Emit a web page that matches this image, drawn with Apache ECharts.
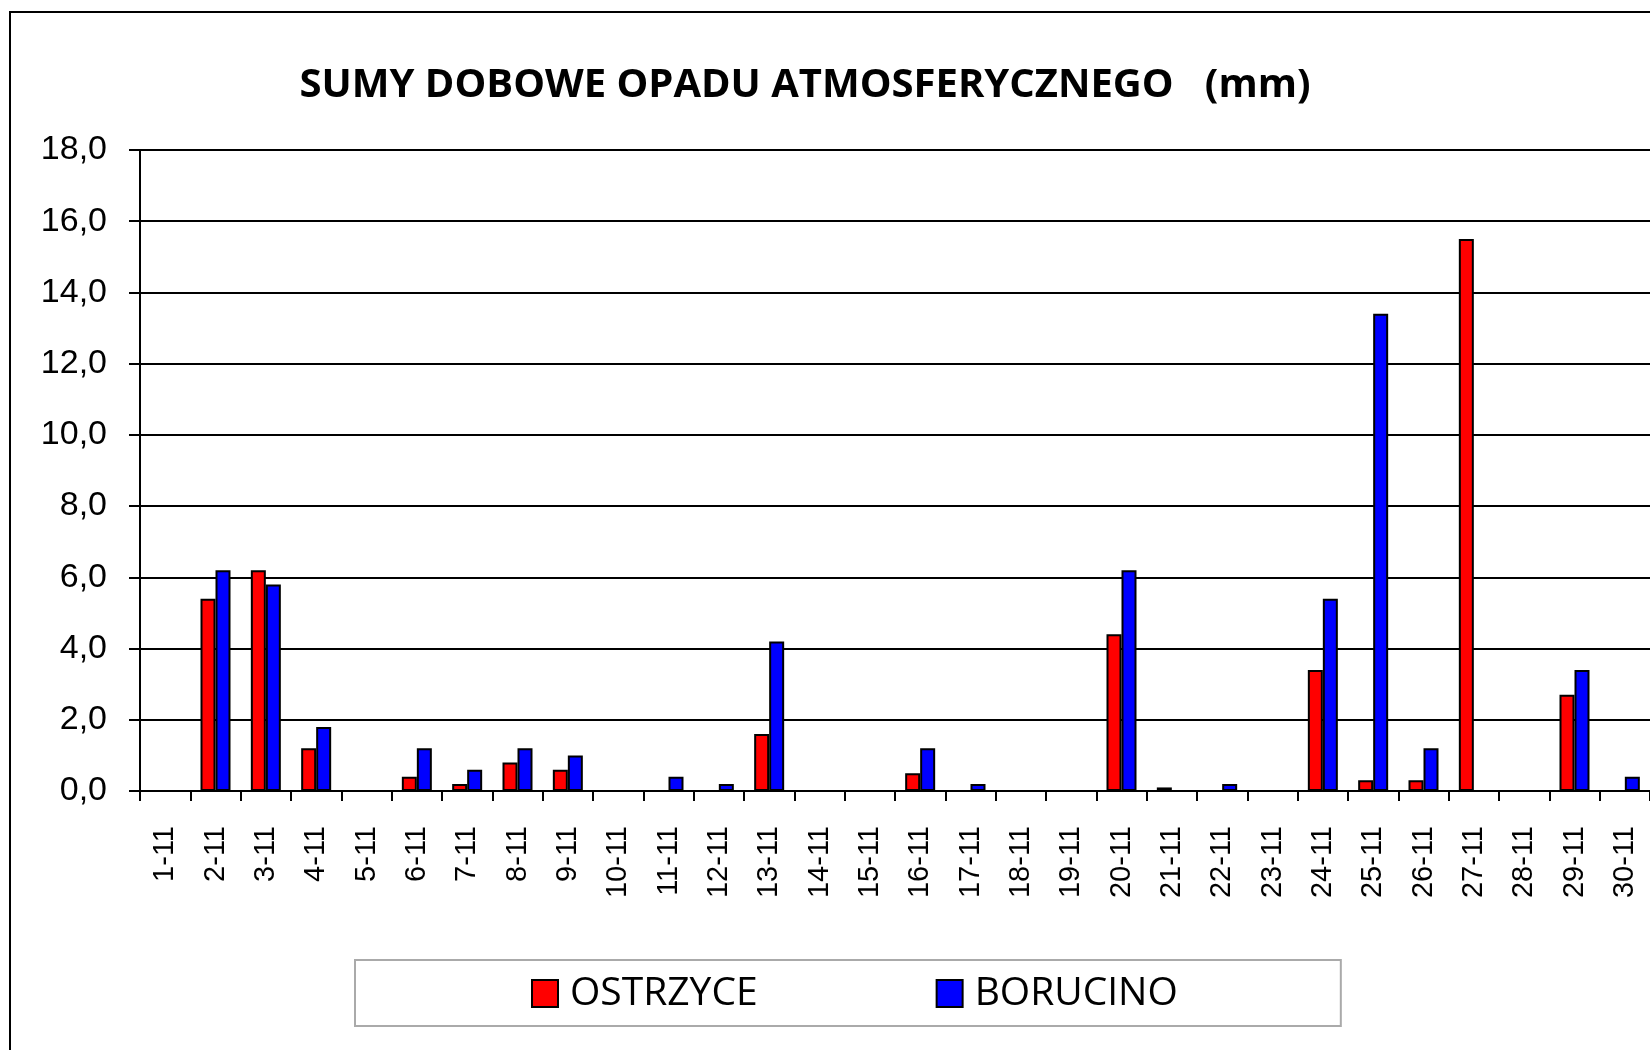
<!DOCTYPE html>
<html>
<head>
<meta charset="utf-8">
<script src="https://cdn.jsdelivr.net/npm/echarts@6/dist/echarts.min.js"></script>
<style>
  html, body { margin: 0; padding: 0; background: #fff; }
  #chart { width: 1650px; height: 1050px; }
</style>
</head>
<body>
<div id="chart"></div>
<script>
// dni listopada
var days = ["1-11","2-11","3-11","4-11","5-11","6-11","7-11","8-11","9-11","10-11",
  "11-11","12-11","13-11","14-11","15-11","16-11","17-11","18-11","19-11","20-11",
  "21-11","22-11","23-11","24-11","25-11","26-11","27-11","28-11","29-11","30-11"];

// sumy dobowe opadu (mm)
var ostrzyce = [0, 5.4, 6.2, 1.2, 0, 0.4, 0.2, 0.8, 0.6, 0,
  0, 0, 1.6, 0, 0, 0.5, 0, 0, 0, 4.4,
  0.1, 0, 0, 3.4, 0.3, 0.3, 15.5, 0, 2.7, 0];
var borucino = [0, 6.2, 5.8, 1.8, 0, 1.2, 0.6, 1.2, 1.0, 0,
  0.4, 0.2, 4.2, 0, 0, 1.2, 0.2, 0, 0, 6.2,
  0, 0.2, 0, 5.4, 13.4, 1.2, 0, 0, 3.4, 0.4];

var yTicks = { min: 0, max: 18, interval: 2 };

var chart = echarts.init(document.getElementById("chart"));

var barStyle = function (color) {
  return { color: color, borderColor: "#000", borderWidth: 2 };
};

var option = {
  backgroundColor: "#fff",
  animation: false,
  title: {
    text: "SUMY DOBOWE OPADU ATMOSFERYCZNEGO   (mm)",
    left: 800,
    top: 61,
    textAlign: "center",
    textStyle: {
      fontFamily: "Open Sans",
      fontWeight: "bold",
      fontSize: 40,
      color: "#000",
    },
  },
  // ramka wykresu
  graphic: [
    {
      type: "rect",
      shape: { x: 10, y: 12, width: 1700, height: 1100 },
      style: { fill: "none", stroke: "#000", lineWidth: 2 },
      silent: true,
    },
  ],
  legend: {
    data: ["OSTRZYCE", "BORUCINO"],
    left: 355,
    top: 960,
    orient: "horizontal",
    padding: [14, 163, 13, 176],
    itemGap: 178,
    itemWidth: 26,
    itemHeight: 27,
    borderColor: "#aaa",
    borderWidth: 2,
    icon: "rect",
    textStyle: {
      fontFamily: "Open Sans",
      fontSize: 39,
      color: "#000",
      lineHeight: 30,
      padding: [0, 0, 0, 7],
    },
  },
  grid: {
    left: 140,
    top: 150,
    width: 1510,
    height: 641,
    containLabel: false,
  },
  xAxis: {
    type: "category",
    data: days,
    axisLine: { lineStyle: { color: "#000", width: 2 } },
    axisTick: {
      show: true,
      alignWithLabel: false,
      length: 10,
      lineStyle: { color: "#000", width: 2 },
    },
    axisLabel: {
      interval: 0,
      rotate: 90,
      margin: 35,
      fontFamily: "Liberation Sans",
      fontSize: 29,
      color: "#000",
    },
  },
  yAxis: {
    type: "value",
    min: yTicks.min,
    max: yTicks.max,
    interval: yTicks.interval,
    axisLine: { show: true, lineStyle: { color: "#000", width: 2 } },
    axisTick: {
      show: true,
      inside: false,
      length: 11,
      lineStyle: { color: "#000", width: 2 },
    },
    splitLine: { show: true, lineStyle: { color: "#000", width: 2 } },
    axisLabel: {
      margin: 33,
      fontFamily: "Liberation Sans",
      fontSize: 34,
      color: "#000",
      formatter: function (v) {
        return v.toFixed(1).replace(".", ",");
      },
    },
  },
  series: [
    {
      name: "OSTRZYCE",
      type: "bar",
      data: ostrzyce,
      barWidth: 15,
      barGap: "0%",
      itemStyle: barStyle("#ff0000"),
    },
    {
      name: "BORUCINO",
      type: "bar",
      data: borucino,
      barWidth: 15,
      barGap: "0%",
      itemStyle: barStyle("#0000ff"),
    },
  ],
};

chart.setOption(option);
</script>
</body>
</html>
